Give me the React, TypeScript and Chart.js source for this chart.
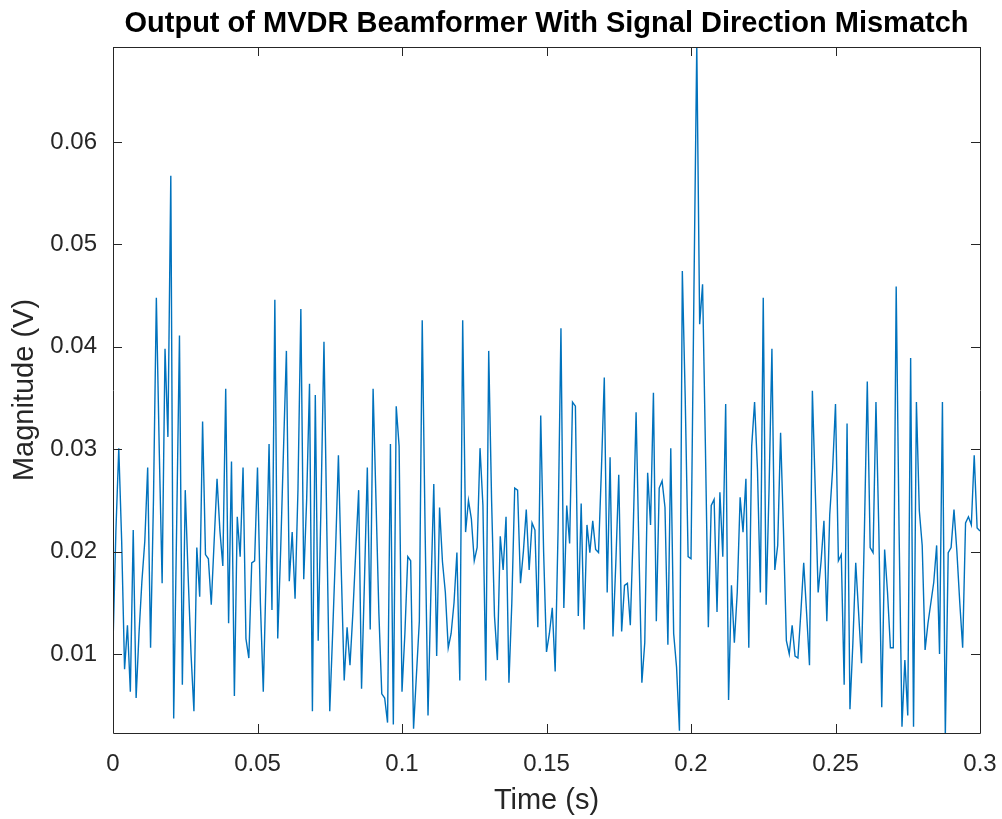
import React, { useEffect, useRef } from "react";
import { Chart, registerables } from "chart.js";

Chart.register(...registerables);

const TITLE = "Output of MVDR Beamformer With Signal Direction Mismatch";
const X_LABEL = "Time (s)";
const Y_LABEL = "Magnitude (V)";

// sample period 1 ms, 0 .. 0.3 s
const SAMPLE_STEP_S = 0.001;

const magnitude1: number[] = [
  0.011, 0.022, 0.0301, 0.021, 0.0085, 0.0128, 0.0063, 0.0221, 0.0057, 0.012,
  0.0171, 0.021, 0.0282, 0.0106, 0.025, 0.0448, 0.03, 0.0169, 0.0398, 0.0312,
  0.0567, 0.0037, 0.022, 0.0411, 0.007, 0.026, 0.0176, 0.01, 0.0044, 0.0204,
  0.0156, 0.0327, 0.0197, 0.0193, 0.0148, 0.021, 0.0271, 0.022, 0.0186, 0.0359,
  0.013, 0.0288, 0.0059, 0.0234, 0.0195, 0.0282, 0.0115, 0.0096, 0.0189, 0.0191,
  0.0282, 0.015, 0.0063, 0.018, 0.0305, 0.0143, 0.0446, 0.0115, 0.02, 0.03,
  0.0396, 0.0171, 0.0219, 0.0154, 0.026, 0.0437, 0.0173, 0.025, 0.0364, 0.0044,
  0.0353, 0.0113, 0.025, 0.0405, 0.022, 0.0044, 0.012, 0.02, 0.0294, 0.018,
  0.0074, 0.0126, 0.0089, 0.014, 0.02, 0.026, 0.0066, 0.017, 0.0282, 0.0124,
  0.0359, 0.025, 0.014, 0.0061, 0.0057, 0.0033, 0.0305, 0.0031, 0.0342, 0.0303,
];
const magnitude2: number[] = [
  0.0063, 0.012, 0.0195, 0.0191, 0.0027, 0.008, 0.0132, 0.0426, 0.022, 0.004,
  0.016, 0.0266, 0.0098, 0.0243, 0.019, 0.016, 0.0106, 0.012, 0.015, 0.0199,
  0.0074, 0.0426, 0.0219, 0.025, 0.0232, 0.0191, 0.0204, 0.0301, 0.0245, 0.0074,
  0.0396, 0.025, 0.0137, 0.0094, 0.0215, 0.0182, 0.0234, 0.0072, 0.015, 0.0262,
  0.026, 0.0169, 0.02, 0.0241, 0.0182, 0.0228, 0.0221, 0.0126, 0.0333, 0.02,
  0.0102, 0.012, 0.0145, 0.0083, 0.022, 0.0418, 0.0145, 0.0245, 0.0208, 0.0346,
  0.0342, 0.0137, 0.0247, 0.0124, 0.0226, 0.0199, 0.023, 0.0202, 0.0199, 0.028,
  0.037, 0.016, 0.0292, 0.0117, 0.019, 0.0275, 0.0122, 0.0167, 0.0169, 0.0128,
  0.022, 0.0336, 0.02, 0.0072, 0.0111, 0.0277, 0.0226, 0.0355, 0.0132, 0.0262,
  0.0269, 0.0243, 0.0109, 0.0301, 0.012, 0.0087, 0.0025, 0.0474, 0.035, 0.0195,
];
const magnitude3: number[] = [
  0.0193, 0.045, 0.0695, 0.0422, 0.0461, 0.03, 0.0126, 0.0245, 0.0251, 0.0141,
  0.0258, 0.0195, 0.0344, 0.0055, 0.0167, 0.0111, 0.016, 0.0253, 0.0219, 0.0271,
  0.0106, 0.0303, 0.0346, 0.028, 0.016, 0.0448, 0.0148, 0.026, 0.0398, 0.0182,
  0.0206, 0.0316, 0.022, 0.0113, 0.01, 0.0128, 0.0098, 0.0096, 0.014, 0.0189,
  0.014, 0.0089, 0.0357, 0.026, 0.016, 0.019, 0.023, 0.0132, 0.0236, 0.028,
  0.0344, 0.0191, 0.0197, 0.007, 0.0325, 0.0046, 0.011, 0.0189, 0.014, 0.0091,
  0.022, 0.0366, 0.0204, 0.0199, 0.0346, 0.022, 0.0048, 0.0202, 0.016, 0.0106,
  0.0106, 0.0459, 0.022, 0.0029, 0.0094, 0.004, 0.0389, 0.0029, 0.0346, 0.024,
  0.0206, 0.0104, 0.013, 0.015, 0.017, 0.0206, 0.01, 0.0346, 0.002, 0.0199,
  0.0204, 0.0241, 0.02, 0.015, 0.0106, 0.0228, 0.0234, 0.0226, 0.0294, 0.0223,
  0.022,
];

const X_TICKS = [0, 0.05, 0.1, 0.15, 0.2, 0.25, 0.3];
const X_TICK_LABELS = ["0", "0.05", "0.1", "0.15", "0.2", "0.25", "0.3"];
const Y_TICKS = [0.01, 0.02, 0.03, 0.04, 0.05, 0.06];
const Y_TICK_LABELS = ["0.01", "0.02", "0.03", "0.04", "0.05", "0.06"];

const X_MIN = 0;
const X_MAX = 0.3;
const Y_MIN = 0.00228;
const Y_MAX = 0.06928;

const AXIS_COLOR = "#262626";
const LINE_COLOR = "#0072BD";
const FONT = "'Liberation Sans', Arial, Helvetica, sans-serif";

const framePlugin = {
  id: "matlabFrame",
  afterDatasetsDraw(chart: any) {
    const { ctx, chartArea } = chart;
    const { left, right, top, bottom } = chartArea;
    const xs = chart.scales.x;
    const ys = chart.scales.y;
    const tl = 9;
    ctx.save();
    ctx.strokeStyle = AXIS_COLOR;
    ctx.lineWidth = 1;
    ctx.beginPath();
    ctx.rect(Math.round(left) + 0.5, Math.round(top) + 0.5, Math.round(right - left), Math.round(bottom - top));
    ctx.stroke();
    ctx.beginPath();
    X_TICKS.forEach((v) => {
      const px = Math.round(xs.getPixelForValue(v)) + 0.5;
      ctx.moveTo(px, bottom);
      ctx.lineTo(px, bottom - tl);
      ctx.moveTo(px, top);
      ctx.lineTo(px, top + tl);
    });
    Y_TICKS.forEach((v) => {
      const py = Math.round(ys.getPixelForValue(v)) + 0.5;
      ctx.moveTo(left, py);
      ctx.lineTo(left + tl, py);
      ctx.moveTo(right, py);
      ctx.lineTo(right - tl, py);
    });
    ctx.stroke();
    ctx.restore();
  },
};

export default function App() {
  const ref = useRef<HTMLCanvasElement | null>(null);

  useEffect(() => {
    if (!ref.current) return;
    const values = [...magnitude1, ...magnitude2, ...magnitude3];
    const points = values.map((y, i) => ({ x: i * SAMPLE_STEP_S, y }));

    const chart = new Chart(ref.current, {
      type: "line",
      data: {
        datasets: [
          {
            data: points,
            borderColor: LINE_COLOR,
            borderWidth: 1.4,
            pointRadius: 0,
            tension: 0,
            fill: false,
            clip: 0,
          },
        ],
      },
      options: {
        animation: false,
        responsive: false,
        maintainAspectRatio: false,
        layout: { padding: { left: 0, right: 22, top: 0, bottom: 0 } },
        plugins: {
          legend: { display: false },
          tooltip: { enabled: false },
          title: {
            display: true,
            text: TITLE,
            fullSize: false,
            color: "#000000",
            font: { family: FONT, size: 29, weight: "bold", lineHeight: 1.2 },
            padding: { top: 6.5, bottom: 5.7 },
          },
        },
        scales: {
          x: {
            type: "linear",
            min: X_MIN,
            max: X_MAX,
            grid: { display: false, drawTicks: false },
            border: { display: false },
            afterBuildTicks: (scale: any) => {
              scale.ticks = X_TICKS.map((v) => ({ value: v }));
            },
            afterFit: (scale: any) => {
              scale.height = 86;
              scale.paddingLeft = 0;
              scale.paddingRight = 0;
            },
            ticks: {
              color: AXIS_COLOR,
              font: { family: FONT, size: 24 },
              padding: 17,
              maxRotation: 0,
              autoSkip: false,
              callback: (v: any) => {
                const idx = X_TICKS.findIndex((t) => Math.abs(t - Number(v)) < 1e-9);
                return idx >= 0 ? X_TICK_LABELS[idx] : "";
              },
            },
            title: {
              display: true,
              text: X_LABEL,
              color: AXIS_COLOR,
              font: { family: FONT, size: 29, lineHeight: 1.2 },
              padding: { top: 0, bottom: 0.5 },
            },
          },
          y: {
            type: "linear",
            min: Y_MIN,
            max: Y_MAX,
            grid: { display: false, drawTicks: false },
            border: { display: false },
            afterBuildTicks: (scale: any) => {
              scale.ticks = Y_TICKS.map((v) => ({ value: v }));
            },
            afterFit: (scale: any) => {
              scale.width = 113;
              scale.paddingTop = 0;
              scale.paddingBottom = 0;
            },
            ticks: {
              color: AXIS_COLOR,
              font: { family: FONT, size: 24 },
              padding: 16,
              autoSkip: false,
              callback: (v: any) => {
                const idx = Y_TICKS.findIndex((t) => Math.abs(t - Number(v)) < 1e-9);
                return idx >= 0 ? Y_TICK_LABELS[idx] : "";
              },
            },
            title: {
              display: true,
              text: Y_LABEL,
              color: AXIS_COLOR,
              font: { family: FONT, size: 29, lineHeight: 1.2 },
              padding: { top: 8, bottom: 0 },
            },
          },
        },
      },
      plugins: [framePlugin],
    });
    return () => chart.destroy();
  }, []);

  return (
    <div style={{ position: "absolute", left: 0, top: 0, width: 1002, height: 819, background: "#ffffff" }}>
      <canvas ref={ref} width={1002} height={819} style={{ display: "block" }} />
    </div>
  );
}
